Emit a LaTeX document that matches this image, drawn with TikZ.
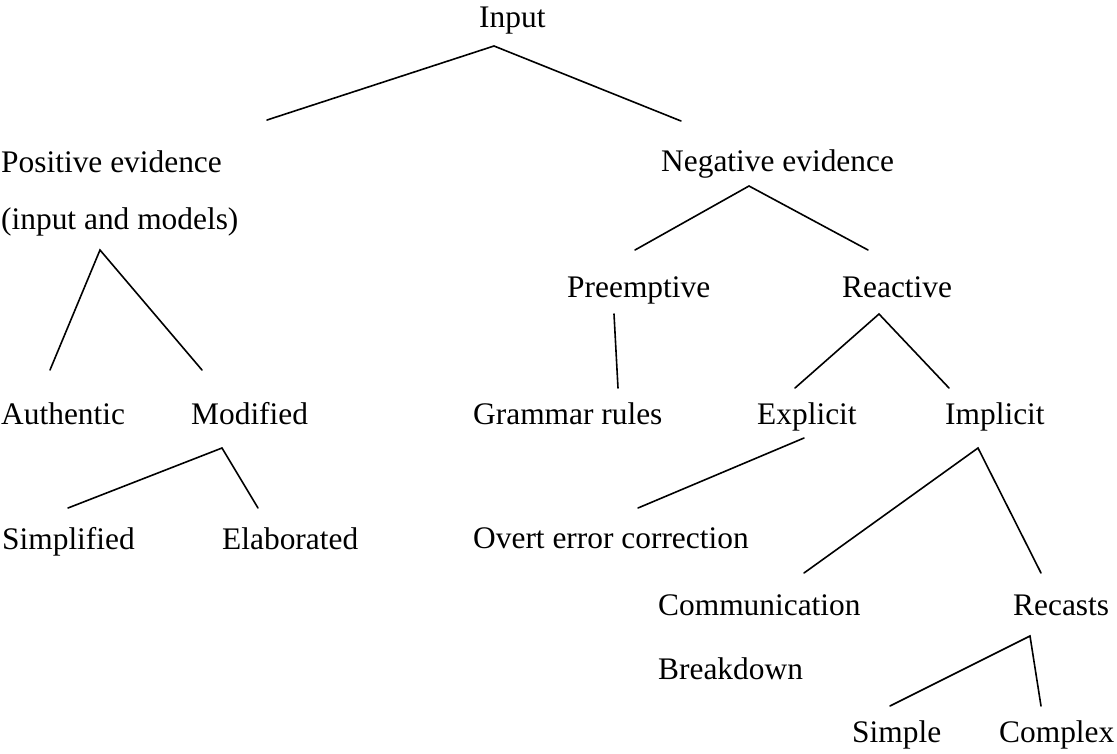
\documentclass[tikz,border=0pt]{standalone}
\usepackage{fontspec}
\setmainfont{Liberation Serif}
\usepackage{tikz}
\usetikzlibrary{positioning}
\tikzset{
    term/.style={
        anchor=base west, inner sep=0pt,
        font=\fontsize{31.4}{37}\selectfont
    },
    branch/.style={
        line width=1.6pt, line cap=round
    }
}

\begin{document}
\begin{tikzpicture}[x=1pt, y=-1pt]
\useasboundingbox (0,0) rectangle (1117,753);

% terms
\node[term] (input) at (479,27) {Input};
\node[term] (pos) at (1,172) {Positive evidence};
\node[term] (posmod) at (1,229) {(input and models)};
\node[term] (neg) at (661,171) {Negative evidence};
\node[term] (auth) at (1,424) {Authentic};
\node[term] (mod) at (191,424) {Modified};
\node[term] (simp) at (2,549) {Simplified};
\node[term] (elab) at (222,549) {Elaborated};
\node[term] (pre) at (567,297) {Preemptive};
\node[term] (rea) at (842,297) {Reactive};
\node[term] (gram) at (473,424) {Grammar rules};
\node[term] (exp) at (757,424) {Explicit};
\node[term] (imp) at (945,424) {Implicit};
\node[term] (overt) at (473,548) {Overt error correction};
\node[term] (comm) at (658,615) {Communication};
\node[term] (commb) at (658,679) {Breakdown};
\node[term] (rec) at (1013,615) {Recasts};
\node[term] (simple) at (852,742) {Simple};
\node[term] (complex) at (999,742) {Complex};

% forks under the parents
\coordinate (input-fork) at (494,46);
\coordinate (pos-fork) at (100,250);
\coordinate (mod-fork) at (222,448);
\coordinate (neg-fork) at (749,186);
\coordinate (pre-fork) at (614,314);
\coordinate (rea-fork) at (879,314);
\coordinate (exp-fork) at (804,438);
\coordinate (imp-fork) at (978,448);
\coordinate (rec-fork) at (1030,636);

% ends over the children
\coordinate (pos-top) at (267,120);
\coordinate (neg-top) at (681,121);
\coordinate (auth-top) at (50,370);
\coordinate (mod-top) at (202,370);
\coordinate (simp-top) at (68,508);
\coordinate (elab-top) at (258,508);
\coordinate (pre-top) at (635,250);
\coordinate (rea-top) at (868,250);
\coordinate (gram-top) at (618,388);
\coordinate (exp-top) at (795,388);
\coordinate (imp-top) at (949,388);
\coordinate (overt-top) at (638,508);
\coordinate (comm-top) at (804,573);
\coordinate (rec-top) at (1041,573);
\coordinate (simple-top) at (890,706);
\coordinate (complex-top) at (1041,706);

\draw[branch] (pos-top) -- (input-fork) -- (neg-top);
\draw[branch] (auth-top) -- (pos-fork) -- (mod-top);
\draw[branch] (simp-top) -- (mod-fork) -- (elab-top);
\draw[branch] (pre-top) -- (neg-fork) -- (rea-top);
\draw[branch] (pre-fork) -- (gram-top);
\draw[branch] (exp-top) -- (rea-fork) -- (imp-top);
\draw[branch] (exp-fork) -- (overt-top);
\draw[branch] (comm-top) -- (imp-fork) -- (rec-top);
\draw[branch] (simple-top) -- (rec-fork) -- (complex-top);

\end{tikzpicture}
\end{document}
